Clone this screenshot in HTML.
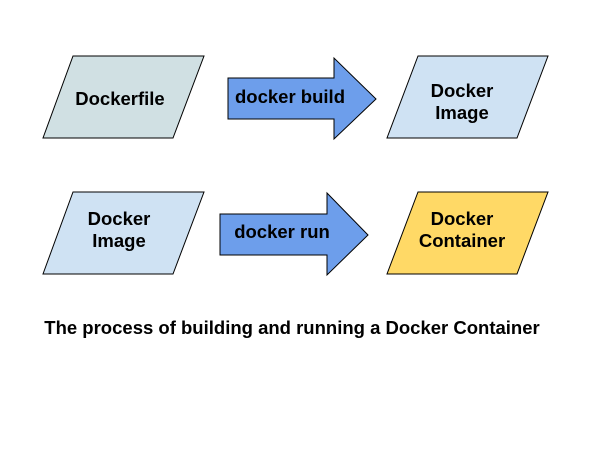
<!DOCTYPE html>
<html><head><style>body{margin:0;background:#fff}</style></head><body>
<svg width="597" height="455" xmlns="http://www.w3.org/2000/svg" font-family="Liberation Sans, Arial, sans-serif" font-weight="bold">
<rect width="597" height="455" fill="#fff"/>
<g stroke="#000" stroke-width="1">
<polygon points="73,56 204,56 173,138 43,138" fill="#d0e0e3"/>
<polygon points="73,192 204,192 173,274 43,274" fill="#cfe2f3"/>
<polygon points="418,56 548,56 517,138 387,138" fill="#cfe2f3"/>
<polygon points="418,192 548,192 517,274 387,274" fill="#ffd966"/>
<polygon points="228,78 334,78 334,58 376,99 334,139 334,119 228,119" fill="#6d9eeb"/>
<polygon points="220,214 327,214 327,193 368,235 327,275 327,255 220,255" fill="#6d9eeb"/>
</g>
<g font-size="18.5" text-anchor="middle" fill="#000">
<text x="120" y="105">Dockerfile</text>
<text x="119" y="225">Docker</text>
<text x="119" y="247">Image</text>
<text x="462" y="97">Docker</text>
<text x="462" y="119">Image</text>
<text x="462" y="225">Docker</text>
<text x="462" y="247">Container</text>
<text x="290" y="103">docker build</text>
<text x="282" y="238">docker run</text>
<text x="292" y="334">The process of building and running a Docker Container</text>
</g>
</svg>
</body></html>
